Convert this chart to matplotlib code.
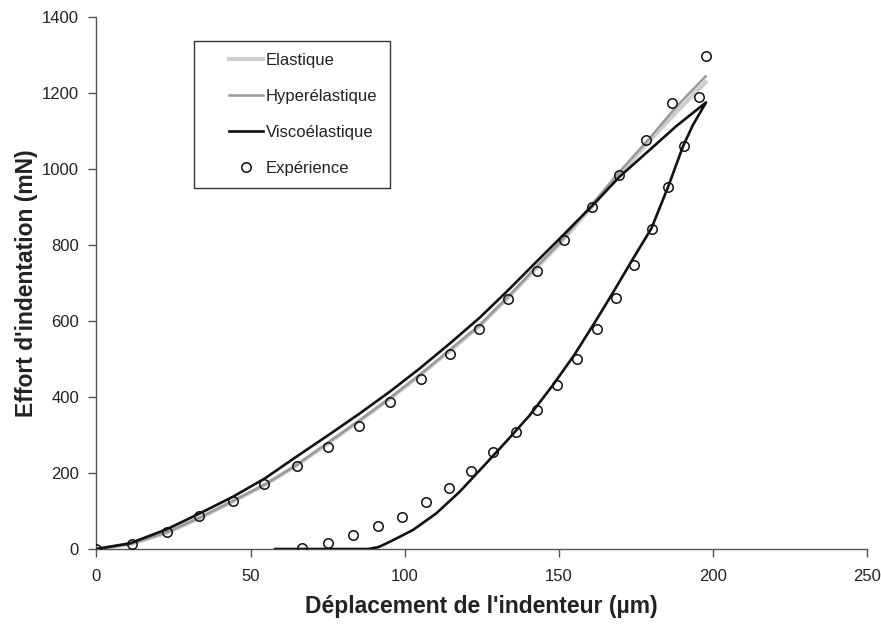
import matplotlib
matplotlib.use("Agg")
import matplotlib.pyplot as plt
from matplotlib.legend_handler import HandlerLine2D

plt.rcParams['font.family'] = ['Liberation Sans', 'DejaVu Sans']

# Experimental data (loading then unloading)
exp_x = [0, 11.6, 22.8, 33.4, 44.2, 54.5, 65.1, 75.2, 85.2, 95.3, 105.2, 114.7, 124.2,
         133.6, 142.8, 151.7, 160.8, 169.6, 178.2, 186.9, 197.8,
         195.4, 190.5, 185.6, 180.2, 174.3, 168.5, 162.3, 155.9, 149.5, 143.0, 136.0,
         128.7, 121.6, 114.3, 106.9, 99.2, 91.3, 83.3, 75.2, 66.8]
exp_y = [0, 14, 46, 87, 126, 172, 218, 269, 324, 386, 448, 514, 580,
         657, 732, 813, 899, 985, 1075, 1174, 1296,
         1190, 1061, 952, 841, 746, 660, 578, 499, 431, 366, 309,
         254, 204, 161, 124, 85, 60, 36, 15, 2]

# Elastic model (loading)
el_x = [0, 11, 22.8, 33.6, 44.4, 54.7, 64.9, 75.5, 85.5, 95.2, 104.9, 114.7, 124.4,
        133.6, 142.8, 150.1, 160.6, 169.8, 179.5, 188.2, 197.6]
el_y = [0, 13, 43, 82, 126, 169, 220, 280, 338, 396, 457, 522, 588,
        662, 740, 801, 900, 986, 1074, 1150, 1228]

# Hyperelastic model (loading)
hy_x = [0, 11, 22.8, 33.6, 44.4, 54.7, 64.9, 75.5, 85.5, 95.2, 104.9, 114.7, 124.4,
        133.6, 142.8, 150.1, 160.6, 169.8, 179.5, 188.2, 197.6]
hy_y = [0, 13, 44, 83, 127, 170, 221, 282, 339, 397, 458, 524, 589,
        664, 743, 804, 905, 993, 1081, 1164, 1243]

# Viscoelastic model (loading + unloading)
ve_x = [0, 10.9, 22.8, 33.6, 44.4, 54.7, 64.9, 75.5, 85.5, 95.2, 104.9, 114.7, 124.4,
        133.6, 142.8, 150.1, 160.6, 169.8, 179.5, 188.2, 197.8,
        193.5, 190.3, 185.5, 180.1, 173.6, 168, 162, 155, 148, 140.6, 133.1,
        125.5, 117.9, 110.3, 102.7, 95.2, 91.5, 88.2, 58]
ve_y = [0, 15, 52, 94, 138, 186, 243, 301, 357, 414, 475, 541, 609,
        681, 756, 815, 901, 980, 1050, 1113, 1175,
        1115, 1059, 953, 844, 757, 680, 600, 510, 430, 352, 284,
        217, 151, 94, 50, 19, 5, 0, 0]


class ShortLineHandler(HandlerLine2D):
    """Draw the legend line only over the right part of the handle box."""
    def create_artists(self, legend, orig_handle, xdescent, ydescent,
                       width, height, fontsize, trans):
        start = 0.40 * width
        return super().create_artists(legend, orig_handle, xdescent - start,
                                      ydescent, width - start, height,
                                      fontsize, trans)


fig = plt.figure(figsize=(8.81, 6.26), dpi=100)
ax = fig.add_axes([0.1095, 0.123, 0.8745, 0.85])

l1, = ax.plot(el_x, el_y, color='#cdcdcd', lw=3.0, label='Elastique', zorder=2,
              solid_joinstyle='round')
l2, = ax.plot(hy_x, hy_y, color='#9a9a9a', lw=1.8, label='Hyperélastique', zorder=3,
              solid_joinstyle='round')
l3, = ax.plot(ve_x, ve_y, color='#111111', lw=1.9, label='Viscoélastique', zorder=4,
              solid_joinstyle='round')
l4, = ax.plot(exp_x, exp_y, ls='none', marker='o', ms=6.8, mfc='none', mec='#111111',
              mew=1.1, label='Expérience', zorder=5)

ax.set_xlim(0, 250)
ax.set_ylim(0, 1400)
ax.set_xticks([0, 50, 100, 150, 200, 250])
ax.set_yticks(range(0, 1401, 200))
for s in ['top', 'right']:
    ax.spines[s].set_visible(False)
for s in ['left', 'bottom']:
    ax.spines[s].set_color('#555555')
    ax.spines[s].set_linewidth(1.0)
ax.tick_params(direction='out', length=5.5, width=1, color='#555555',
               labelsize=12, pad=7, labelcolor='#222222')
ax.tick_params(axis='x', pad=9)

ax.set_xlabel("Déplacement de l'indenteur (µm)", fontsize=16.5, fontweight='bold',
              labelpad=8, color='#222222')
ax.set_ylabel("Effort d'indentation (mN)", fontsize=16.5, fontweight='bold',
              labelpad=3, color='#222222')

h = ShortLineHandler()
leg = ax.legend(handles=[l1, l2, l3, l4], loc='upper left',
                bbox_to_anchor=(0.1265, 0.9555), fontsize=12,
                frameon=True, fancybox=False, edgecolor='#333333', framealpha=1,
                handlelength=3.38, handletextpad=0.2, labelspacing=1.25,
                borderpad=0.75, borderaxespad=0, labelcolor='#222222',
                handler_map={l1: h, l2: h, l3: h, l4: h})
leg.get_frame().set_linewidth(1.0)

fig.savefig('out.png', dpi=100)
